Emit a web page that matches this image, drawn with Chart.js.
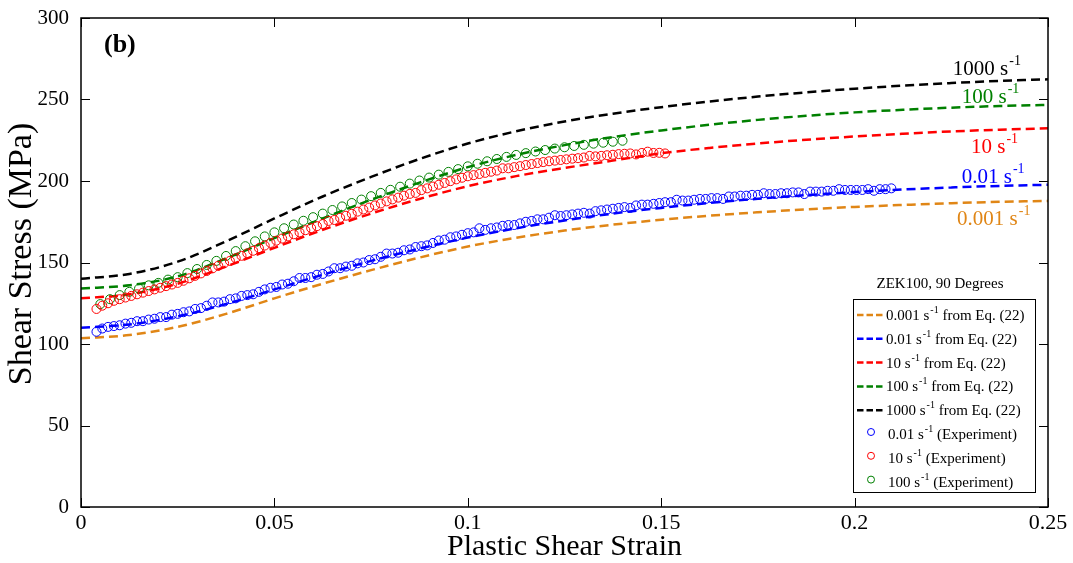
<!DOCTYPE html>
<html>
<head>
<meta charset="utf-8">
<script src="https://cdn.jsdelivr.net/npm/chart.js@4.4.1/dist/chart.umd.min.js"></script>
<style>
html,body{margin:0;padding:0;background:#fff;}
canvas{display:block;}
</style>
</head>
<body>
<canvas id="c" width="1073" height="563"></canvas>
<script>
// ---------- DATA ----------
const xTicks = [0, 0.05, 0.1, 0.15, 0.2, 0.25];
const xTickLabels = ['0', '0.05', '0.1', '0.15', '0.2', '0.25'];
const yTicks = [0, 50, 100, 150, 200, 250, 300];
const yTickLabels = ['0', '50', '100', '150', '200', '250', '300'];

// Model strain grid (Eq. 22 curves)
const modelStrain = [0, 0.0125, 0.025, 0.0375, 0.05, 0.0625, 0.075, 0.0875, 0.1, 0.1125, 0.125,
  0.1375, 0.15, 0.1625, 0.175, 0.1875, 0.2, 0.2125, 0.225, 0.2375, 0.25];
const model0001 = [103.5, 105.5, 110.5, 118.5, 128, 137, 145.3, 153, 159.8, 165.2, 169.6,
  173.2, 176.2, 178.7, 180.8, 182.6, 184.1, 185.3, 186.4, 187.2, 187.8];
const model001 = [110, 112, 117, 124.5, 133.5, 142.5, 151, 158.5, 165.3, 171, 175.8,
  180, 183.5, 186.5, 189.1, 191.3, 193.2, 194.8, 196, 197, 197.7];
const model10 = [128, 130.5, 137, 147.5, 159, 170, 180, 189, 196.8, 203, 208,
  212.5, 217, 220.3, 223, 225.3, 227.3, 229, 230.4, 231.5, 232.3];
const model100 = [134, 136, 141.5, 152.5, 165, 177, 188.5, 199, 208.5, 216, 222,
  227, 231, 234.5, 237.5, 240, 242.1, 243.7, 245, 246, 246.7];
const model1000 = [140, 143, 150.5, 163, 177, 190.5, 202.5, 213.5, 223, 230.5, 236.5,
  241.3, 245.3, 248.8, 251.8, 254.4, 256.6, 258.5, 260.1, 261.4, 262.4];

// Experiment 0.01 /s
const exp001Strain = [0.004,0.0055,0.007,0.0085,0.010,0.0115,0.013,0.0145,0.016,0.0175,0.019,0.0205,0.022,0.0235,0.025,0.0265,0.028,0.0295,0.031,0.0325,0.034,0.0355,0.037,0.0385,0.040,0.0415,0.043,0.0445,0.046,0.0475,0.049,0.0505,0.052,0.0535,0.055,0.0565,0.058,0.0595,0.061,0.0625,0.064,0.0655,0.067,0.0685,0.070,0.0715,0.073,0.0745,0.076,0.0775,0.079,0.0805,0.082,0.0835,0.085,0.0865,0.088,0.0895,0.091,0.0925,0.094,0.0955,0.097,0.0985,0.100,0.1015,0.103,0.1045,0.106,0.1075,0.109,0.1105,0.112,0.1135,0.115,0.1165,0.118,0.1195,0.121,0.1225,0.124,0.1255,0.127,0.1285,0.130,0.1315,0.133,0.1345,0.136,0.1375,0.139,0.1405,0.142,0.1435,0.145,0.1465,0.148,0.1495,0.151,0.1525,0.154,0.1555,0.157,0.1585,0.160,0.1615,0.163,0.1645,0.166,0.1675,0.169,0.1705,0.172,0.1735,0.175,0.1765,0.178,0.1795,0.181,0.1825,0.184,0.1855,0.187,0.1885,0.190,0.1915,0.193,0.1945,0.196,0.1975,0.199,0.2005,0.202,0.2035,0.205,0.2065,0.208,0.2095];
const exp001Stress = [107.5,109.5,110.5,111,111.5,112.5,113,114,114,115,115.5,116.5,116.5,118,118.5,119.5,120,121.5,122,123.5,125.5,125.5,126,127.5,128,129.5,130,130.5,132,133.5,134.5,135,136.5,137,138.5,140.5,140.5,141,142.5,143,144.5,146.5,146.5,147.5,148,149.5,150,151.5,152,153.5,155.5,155.5,156,157.5,158,159.5,160,160.5,162,163.5,164,165.5,166,167,168,168.5,171,170,171,171.5,172.5,173,173,174,175,175.5,176.5,176.5,177.5,179,178.5,179,179.5,180,180.5,180,181.5,182,182.5,183,183.5,184,183.5,185,185.5,185.5,186,186.5,187,187,188.5,188,188,188.5,189,189,189.5,189.5,189,190.5,190.5,191,191,191.5,191.5,192.5,192,192,192.5,192.5,193,193,192,193.5,193.5,193.5,194,194,195,194.5,194.5,194.5,194.5,195,194,195,195,195.5];

// Experiment 10 /s
const exp10Strain = [0.004,0.0055,0.007,0.0085,0.010,0.0115,0.013,0.0145,0.016,0.0175,0.019,0.0205,0.022,0.0235,0.025,0.0265,0.028,0.0295,0.031,0.0325,0.034,0.0355,0.037,0.0385,0.040,0.0415,0.043,0.0445,0.046,0.0475,0.049,0.0505,0.052,0.0535,0.055,0.0565,0.058,0.0595,0.061,0.0625,0.064,0.0655,0.067,0.0685,0.070,0.0715,0.073,0.0745,0.076,0.0775,0.079,0.0805,0.082,0.0835,0.085,0.0865,0.088,0.0895,0.091,0.0925,0.094,0.0955,0.097,0.0985,0.100,0.1015,0.103,0.1045,0.106,0.1075,0.109,0.1105,0.112,0.1135,0.115,0.1165,0.118,0.1195,0.121,0.1225,0.124,0.1255,0.127,0.1285,0.130,0.1315,0.133,0.1345,0.136,0.1375,0.139,0.1405,0.142,0.1435,0.145,0.1465,0.148,0.1495,0.151];
const exp10Stress = [121.5,123.5,125,126.5,127.5,128.5,129.5,130.5,131.5,132.5,133.5,134.5,135.5,136.5,137.5,138.8,140.3,141.8,143.3,144.8,146.4,148,149.5,151,152.6,154.1,155.6,157.2,158.8,160.4,162,163.4,164.7,166,167.3,168.5,169.8,171.1,172.3,173.6,175.5,176.1,177.4,178.7,179.9,181.2,182.5,183.7,185,186.2,187.5,188.7,189.8,191,192.1,192.7,194.4,195.5,196.6,197.7,198.8,199.9,201,202,202.9,203.6,204.3,205,205.7,206.4,207.8,207.8,208.5,209.1,209.8,210.4,211,211.6,212.1,212.5,212.9,213.3,213.7,214,214.4,215.4,215.1,215.4,215.8,216.1,216.5,216.7,216.9,216.3,217.2,218,217.2,217.3,216.9];

// Experiment 100 /s
const exp100Strain = [0.005,0.0075,0.01,0.0125,0.015,0.0175,0.02,0.0225,0.025,0.0275,0.03,0.0325,0.035,0.0375,0.04,0.0425,0.045,0.0475,0.05,0.0525,0.055,0.0575,0.06,0.0625,0.065,0.0675,0.07,0.0725,0.075,0.0775,0.08,0.0825,0.085,0.0875,0.09,0.0925,0.095,0.0975,0.1,0.1025,0.105,0.1075,0.11,0.1125,0.115,0.1175,0.12,0.1225,0.125,0.1275,0.13,0.1325,0.135,0.1375,0.14];
const exp100Stress = [124.5,127.5,130,132,134,136,137.5,139.5,141,143.5,146,148.5,151,154,157,160,163,166,168.5,171,173.3,175.6,177.8,180,182.2,184.4,186.5,188.6,190.7,192.7,194.6,196.5,198.4,200.3,202.1,203.9,205.6,207.3,209,210.6,212.1,213.5,214.8,216,217.1,218.1,219,219.9,220.7,221.5,222.2,222.9,223.5,224.1,224.7];

// ---------- BUILD ----------
const ORANGE = 'rgb(224,134,22)';
const BLUE = '#0000FF';
const RED = '#FF0000';
const GREEN = '#008000';
const BLACK = '#000000';
const toXY = (xs, ys) => xs.map((x, i) => ({x: x, y: ys[i]}));

function modelSet(ys, color, base) {
  return {
    data: toXY(modelStrain, ys), borderColor: color, backgroundColor: color,
    borderWidth: 2.5, borderDash: [9, 5], pointRadius: 0, showLine: true,
    cubicInterpolationMode: 'monotone', fill: false, order: 2,
    legendKind: 'line', legendBase: base, legendTail: ' from Eq. (22)'
  };
}
function expSet(xs, ys, color, base) {
  return {
    data: toXY(xs, ys), borderColor: color, backgroundColor: 'rgba(0,0,0,0)',
    showLine: false, pointRadius: 4.5, pointBorderWidth: 1,
    pointBorderColor: color, pointBackgroundColor: 'rgba(0,0,0,0)', order: 1,
    legendKind: 'circle', legendBase: base, legendTail: ' (Experiment)'
  };
}

const datasets = [
  modelSet(model0001, ORANGE, '0.001 s'),
  modelSet(model001, BLUE, '0.01 s'),
  modelSet(model10, RED, '10 s'),
  modelSet(model100, GREEN, '100 s'),
  modelSet(model1000, BLACK, '1000 s'),
  expSet(exp001Strain, exp001Stress, BLUE, '0.01 s'),
  expSet(exp10Strain, exp10Stress, RED, '10 s'),
  expSet(exp100Strain, exp100Stress, GREEN, '100 s')
];

const SERIF = '"Liberation Serif", "Times New Roman", serif';

function drawSup(ctx, x, y, base, sup, tail, size, supSize, rise, color) {
  ctx.save();
  ctx.fillStyle = color;
  ctx.textAlign = 'left';
  ctx.textBaseline = 'alphabetic';
  ctx.font = size + 'px ' + SERIF;
  ctx.fillText(base, x, y);
  let cx = x + ctx.measureText(base).width + 1;
  ctx.font = supSize + 'px ' + SERIF;
  ctx.fillText(sup, cx, y - rise);
  cx += ctx.measureText(sup).width;
  if (tail) {
    ctx.font = size + 'px ' + SERIF;
    ctx.fillText(tail, cx, y);
  }
  ctx.restore();
}

const curveLabels = [
  {base: '1000 s', color: BLACK, at: [0.2254, 265]},
  {base: '100 s', color: GREEN, at: [0.2277, 248]},
  {base: '10 s', color: RED, at: [0.2301, 217]},
  {base: '0.01 s', color: BLUE, at: [0.2277, 199]},
  {base: '0.001 s', color: ORANGE, at: [0.2265, 173]}
];

const decorPlugin = {
  id: 'decor',
  afterDatasetsDraw(chart) {
    const ctx = chart.ctx;
    const a = chart.chartArea;
    const xs = chart.scales.x, ys = chart.scales.y;
    ctx.save();
    // box
    ctx.strokeStyle = '#000';
    ctx.lineWidth = 1.5;
    ctx.strokeRect(a.left, a.top, a.right - a.left, a.bottom - a.top);
    // inward ticks
    ctx.lineWidth = 1;
    const tl = 9;
    ctx.beginPath();
    xTicks.forEach(v => {
      const p = Math.round(xs.getPixelForValue(v)) + 0.5;
      ctx.moveTo(p, a.bottom); ctx.lineTo(p, a.bottom - tl);
      ctx.moveTo(p, a.top); ctx.lineTo(p, a.top + tl);
    });
    yTicks.forEach(v => {
      const p = Math.round(ys.getPixelForValue(v)) + 0.5;
      ctx.moveTo(a.left, p); ctx.lineTo(a.left + tl, p);
      ctx.moveTo(a.right, p); ctx.lineTo(a.right - tl, p);
    });
    ctx.stroke();

    // panel tag
    ctx.fillStyle = '#000';
    ctx.font = 'bold 26px ' + SERIF;
    ctx.textAlign = 'left';
    ctx.textBaseline = 'alphabetic';
    ctx.fillText('(b)', a.left + 23, a.top + 34);

    // curve labels
    curveLabels.forEach(l => {
      drawSup(ctx, xs.getPixelForValue(l.at[0]), ys.getPixelForValue(l.at[1]),
        l.base, '-1', '', 21, 14, 10, l.color);
    });

    // legend
    const L = {left: 853, top: 299, right: 1035, bottom: 492};
    ctx.font = '15px ' + SERIF;
    ctx.fillStyle = '#000';
    ctx.textAlign = 'center';
    ctx.fillText('ZEK100, 90 Degrees', (L.left + L.right) / 2 - 4, 288);
    ctx.fillStyle = '#fff';
    ctx.fillRect(L.left, L.top, L.right - L.left, L.bottom - L.top);
    ctx.strokeStyle = '#000';
    ctx.lineWidth = 1;
    ctx.strokeRect(L.left + 0.5, L.top + 0.5, L.right - L.left, L.bottom - L.top);
    chart.data.datasets.forEach((ds, i) => {
      const by = 320 + i * 23.8;
      const color = ds.borderColor;
      if (ds.legendKind === 'line') {
        ctx.save();
        ctx.strokeStyle = color;
        ctx.lineWidth = 2.5;
        ctx.setLineDash([6.5, 3]);
        ctx.beginPath();
        ctx.moveTo(857, by - 5); ctx.lineTo(884, by - 5);
        ctx.stroke();
        ctx.restore();
        drawSup(ctx, 886, by, ds.legendBase, '-1', ds.legendTail, 15, 10, 7, '#000');
      } else {
        ctx.save();
        ctx.strokeStyle = ds.pointBorderColor;
        ctx.lineWidth = 1;
        ctx.beginPath();
        ctx.arc(871, by - 7, 3.5, 0, Math.PI * 2);
        ctx.stroke();
        ctx.restore();
        drawSup(ctx, 888, by, ds.legendBase, '-1', ds.legendTail, 15, 10, 7, '#000');
      }
    });
    ctx.restore();
  }
};

new Chart(document.getElementById('c'), {
  type: 'scatter',
  data: {datasets: datasets},
  options: {
    responsive: false,
    animation: false,
    events: [],
    layout: {padding: {top: 18, right: 25, left: 0, bottom: 0}},
    plugins: {legend: {display: false}, tooltip: {enabled: false}},
    scales: {
      x: {
        type: 'linear', min: 0, max: 0.25,
        grid: {display: false}, border: {display: false},
        afterBuildTicks: s => { s.ticks = xTicks.map(v => ({value: v})); },
        afterFit: s => { s.height = 56; },
        ticks: {
          color: '#000', padding: -5, maxRotation: 0, autoSkip: false,
          font: {family: SERIF, size: 22},
          callback: (v, i) => xTickLabels[i]
        },
        title: {display: true, text: 'Plastic Shear Strain', color: '#000',
          font: {family: SERIF, size: 30}, padding: {top: 0, bottom: -2}}
      },
      y: {
        type: 'linear', min: 0, max: 300,
        grid: {display: false}, border: {display: false},
        afterBuildTicks: s => { s.ticks = yTicks.map(v => ({value: v})); },
        afterFit: s => { s.width = 81; },
        ticks: {
          color: '#000', padding: 4, autoSkip: false,
          font: {family: SERIF, size: 21},
          callback: (v, i) => yTickLabels[i]
        },
        title: {display: true, text: '  Shear Stress (MPa)', color: '#000',
          font: {family: SERIF, size: 34}, padding: {top: 2, bottom: 0}}
      }
    }
  },
  plugins: [decorPlugin]
});
</script>
</body>
</html>
